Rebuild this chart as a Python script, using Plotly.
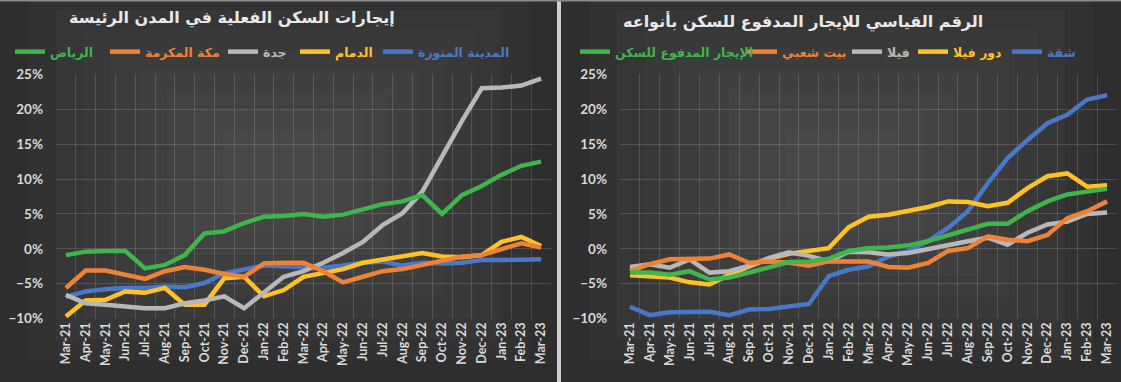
import plotly.graph_objects as go

W, H = 1121, 382

months = ["Mar-21", "Apr-21", "May-21", "Jun-21", "Jul-21", "Aug-21", "Sep-21", "Oct-21",
          "Nov-21", "Dec-21", "Jan-22", "Feb-22", "Mar-22", "Apr-22", "May-22", "Jun-22",
          "Jul-22", "Aug-22", "Sep-22", "Oct-22", "Nov-22", "Dec-22", "Jan-23", "Feb-23", "Mar-23"]

# Left panel: actual housing rents in main cities (% y/y)
medina = [-6.9, -6.1, -5.8, -5.6, -5.6, -5.4, -5.5, -4.9, -3.5, -3.0, -2.4, -2.5, -2.6, -2.7, -2.4,
          -2.0, -1.8, -2.4, -2.0, -2.1, -2.0, -1.6, -1.6, -1.5, -1.5]
dammam = [-9.7, -7.4, -7.3, -6.1, -6.3, -5.6, -8.0, -8.0, -4.2, -4.0, -6.8, -5.9, -4.0, -3.4, -2.9,
          -2.0, -1.5, -1.1, -0.6, -1.1, -1.2, -0.9, 1.0, 1.7, 0.4]
jeddah = [-6.6, -7.8, -8.0, -8.2, -8.5, -8.5, -7.8, -7.4, -6.8, -8.5, -6.3, -4.0, -3.2, -2.0, -0.6,
          1.0, 3.4, 5.1, 8.2, 13.3, 18.3, 23.0, 23.1, 23.4, 24.4]
mecca = [-5.6, -3.1, -3.1, -3.7, -4.3, -3.2, -2.6, -3.0, -3.6, -4.0, -2.1, -2.0, -2.0, -3.2, -4.8,
         -4.0, -3.2, -2.9, -2.3, -1.6, -1.1, -0.9, -0.1, 0.8, 0.2]
riyadh = [-0.9, -0.4, -0.3, -0.3, -2.8, -2.3, -0.9, 2.2, 2.5, 3.7, 4.6, 4.7, 5.0, 4.6, 4.9,
          5.6, 6.4, 6.8, 7.7, 5.0, 7.7, 9.0, 10.6, 11.9, 12.5]

# Right panel: paid rent index by housing type (% y/y)
apartment = [-8.3, -9.5, -9.1, -9.0, -9.0, -9.5, -8.7, -8.6, -8.2, -7.9, -3.9, -3.0, -2.5, -1.1, -0.3,
             1.1, 3.0, 5.4, 9.4, 13.0, 15.6, 18.0, 19.2, 21.4, 22.0]
villa_floor = [-3.8, -3.9, -4.1, -4.8, -5.1, -3.7, -2.5, -1.4, -0.7, -0.3, 0.1, 3.1, 4.6, 4.9, 5.4,
               6.0, 6.8, 6.7, 6.1, 6.6, 8.7, 10.4, 10.8, 8.9, 9.1]
villa = [-2.6, -2.2, -2.7, -1.5, -3.4, -3.2, -2.4, -1.3, -0.5, -1.0, -1.8, -0.4, -0.5, -0.8, -0.6,
         0.0, 0.6, 1.1, 1.6, 0.6, 2.3, 3.5, 3.9, 5.0, 5.2]
popular_house = [-3.2, -2.2, -1.5, -1.5, -1.4, -0.8, -2.0, -1.8, -2.0, -2.4, -1.8, -1.8, -1.8, -2.6, -2.7,
                 -2.0, -0.3, 0.1, 1.8, 1.3, 1.1, 2.0, 4.4, 5.4, 6.8]
total_rent = [-3.4, -3.4, -3.7, -3.2, -4.4, -4.1, -3.4, -2.6, -1.9, -1.8, -1.4, -0.3, 0.1, 0.2, 0.5,
              1.1, 1.9, 2.8, 3.6, 3.6, 5.4, 6.8, 7.8, 8.2, 8.6]

left_title = "إيجارات السكن الفعلية في المدن الرئيسة"
right_title = "الرقم القياسي للإيجار المدفوع للسكن بأنواعه"

BLUE, YELLOW, GRAY, ORANGE, GREEN = "#4a78c9", "#ffc226", "#b8b8b8", "#ee8237", "#3fb54b"

left_series = [
    ("المدينة المنورة", medina, BLUE, 388),
    ("الدمام", dammam, YELLOW, 305),
    ("جدة", jeddah, GRAY, 233),
    ("مكة المكرمة", mecca, ORANGE, 115),
    ("الرياض", riyadh, GREEN, 20),
]
right_series = [
    ("شقة", apartment, BLUE, 1017),
    ("دور فيلا", villa_floor, YELLOW, 923),
    ("فيلا", villa, GRAY, 857),
    ("بيت شعبي", popular_house, ORANGE, 752),
    ("الإيجار المدفوع للسكن", total_rent, GREEN, 585),
]

fig = go.Figure()
legends = {}
n = 0
for axis_sfx, series in (("", left_series), ("2", right_series)):
    for name, vals, color, lx in series:
        n += 1
        lname = "legend" if n == 1 else f"legend{n}"
        fig.add_trace(go.Scatter(
            x=months, y=vals, name=name, mode="lines",
            line=dict(color=color, width=4.5),
            xaxis="x" + axis_sfx, yaxis="y" + axis_sfx,
            legend=lname, hoverinfo="skip",
        ))
        legends[lname] = dict(
            x=(lx - 10) / W, y=1 - 52 / H, xanchor="left", yanchor="middle",
            orientation="h", bgcolor="rgba(0,0,0,0)", borderwidth=0,
            font=dict(family="DejaVu Sans", size=12.5, color=color, weight="bold"),
        )

tickfont_x = dict(family="Lato", size=12.5, color="#d9d9d9", weight="bold")
tickfont_y = dict(family="Lato", size=13.5, color="#d9d9d9", weight="bold")
ydom = [(H - 319) / H, (H - 74) / H]

def xaxis(dom, anchor):
    return dict(domain=dom, anchor=anchor, type="category", tickson="boundaries",
                showgrid=True, gridcolor="rgba(255,255,255,0.14)", gridwidth=1,
                ticks="", tickangle=-90, tickfont=tickfont_x, showline=False,
                range=[-0.5, 24.5], fixedrange=True, automargin=False)

def yaxis(anchor):
    return dict(domain=ydom, anchor=anchor, range=[-10.05, 25.05], dtick=5, tick0=0,
                ticksuffix="%", showgrid=True, gridcolor="rgba(255,255,255,0.14)",
                gridwidth=1, zeroline=False, ticks="", tickfont=tickfont_y,
                ticklabelstandoff=12, showline=False, fixedrange=True, automargin=False)

shapes = []
# subtle gradient backgrounds (lighter towards the centre of each panel)
for (px0, px1) in ((0, 557), (561, 1121)):
    cx = (px0 + px1) / 2
    halfw = (px1 - px0) / 2
    for k in range(9):
        f = 1 - k * 0.1
        shapes.append(dict(type="rect", xref="paper", yref="paper", layer="below",
                           x0=(cx - halfw * f) / W, x1=(cx + halfw * f) / W,
                           y0=(1 - (170 + 212 * f) / H), y1=min(1, 1 - (170 - 200 * f) / H),
                           fillcolor="rgba(255,255,255,0.018)", line=dict(width=0)))
# panel separator and top border
shapes.append(dict(type="rect", xref="paper", yref="paper", layer="above",
                   x0=557 / W, x1=561 / W, y0=0, y1=1, fillcolor="#cfcfcf", line=dict(width=0)))
shapes.append(dict(type="rect", xref="paper", yref="paper", layer="above",
                   x0=0, x1=1, y0=1 - 1.5 / H, y1=1, fillcolor="#8a8a8a", line=dict(width=0)))

annotations = [
    dict(text=left_title, x=232 / W, y=1 - 18 / H, xref="paper", yref="paper",
         showarrow=False, xanchor="center", yanchor="middle",
         font=dict(family="DejaVu Sans", size=16, color="#e8e8e8", weight="bold")),
    dict(text=right_title, x=803 / W, y=1 - 21 / H, xref="paper", yref="paper",
         showarrow=False, xanchor="center", yanchor="middle",
         font=dict(family="DejaVu Sans", size=16, color="#e8e8e8", weight="bold")),
]

fig.update_layout(
    width=W, height=H,
    margin=dict(l=0, r=0, t=0, b=0, pad=0, autoexpand=False),
    paper_bgcolor="#2a2a2a", plot_bgcolor="rgba(0,0,0,0)",
    showlegend=True,
    xaxis=xaxis([56 / W, 551 / W], "y"),
    yaxis=yaxis("x"),
    xaxis2=xaxis([620 / W, 1117 / W], "y2"),
    yaxis2=yaxis("x2"),
    shapes=shapes,
    annotations=annotations,
    **legends,
)

fig.write_html("out.html", config={"displayModeBar": False},
               post_script="document.body.style.margin='0';document.body.style.overflow='hidden';")
